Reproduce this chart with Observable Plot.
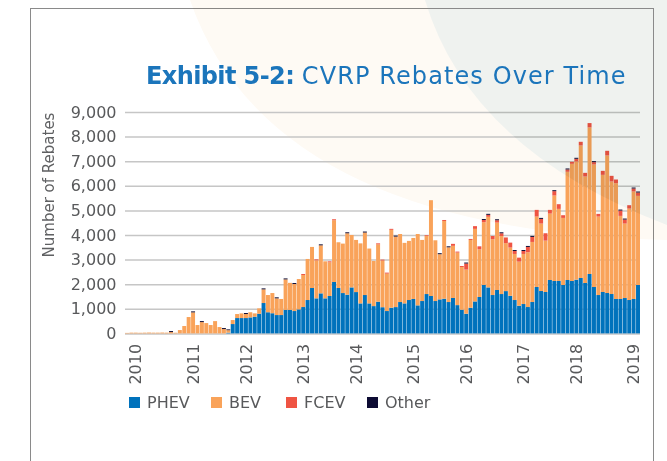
<!DOCTYPE html>
<html>
<head>
<meta charset="utf-8">
<script src="https://cdn.jsdelivr.net/npm/d3@7"></script>
<script src="https://cdn.jsdelivr.net/npm/@observablehq/plot@0.6"></script>
<style>
html,body{margin:0;padding:0;background:#fff;}
#wrap{position:relative;width:667px;height:461px;overflow:hidden;font-family:"DejaVu Sans",sans-serif;}
#bg,#fg,#chart{position:absolute;left:0;top:0;}
#fg{mix-blend-mode:multiply;pointer-events:none;}
#title{position:absolute;left:146px;top:64px;font-size:24px;line-height:24px;color:#1B75BB;white-space:nowrap;}
#title b{font-weight:bold;letter-spacing:-0.6px;}
#title span{letter-spacing:1.1px;}
#ylab{position:absolute;left:49px;top:185px;transform:translate(-50%,-50%) rotate(-90deg);font-size:15px;color:#5f6062;white-space:nowrap;}
.leg{position:absolute;top:393px;display:flex;align-items:center;font-size:16px;color:#58595b;white-space:nowrap;}
.leg span.sw{display:inline-block;width:11px;height:11px;margin-right:7px;}
</style>
</head>
<body>
<div id="wrap">
  <svg id="bg" width="667" height="461">
    <path d="M190,0 Q270,230 667,240 L667,225 Q470,150 425,0 Z" fill="#fefaf4"/>
  </svg>
  <div id="chart"></div>
  <svg id="fg" width="667" height="461">
    <path d="M425,0 Q470,150 667,225 L667,0 Z" fill="#eff2ef"/>
    <rect x="30.5" y="8.5" width="623" height="470" fill="none" stroke="#8a8a8a" stroke-width="1"/>
  </svg>
  <div id="title"><b>Exhibit 5-2:</b> <span>CVRP Rebates Over Time</span></div>
  <div id="ylab">Number of Rebates</div>
  <div id="legend"></div>
</div>
<script>
// Series
const series = ["PHEV", "BEV", "FCEV", "Other"];
const colors = ["#0072bc", "#f9a35a", "#ef5443", "#0d0b33"];

// Rebates per period (oldest first)
const phev = [0,0,0,0,0,0,0,0,0,0,
  0,0,0,0,0,0,0,0,0,0,0,0,0,30,380,624,624,624,650,679,
  800,1235,860,820,746,746,955,955,909,977,1072,1357,1845,1425,1628,1425,1520,2090,1845,1640,
  1574,1870,1680,1220,1560,1220,1110,1290,1065,909,1045,1070,1275,1220,1357,1400,1140,1316,1600,1520,
  1316,1384,1410,1275,1440,1150,963,800,1045,1300,1480,1970,1870,1560,1765,1600,1720,1530,1357,1126,
  1194,1072,1276,1886,1723,1683,2171,2130,2130,1968,2171,2130,2185,2253,2049,2415,1886,1560,1683,1642,
  1601,1398,1398,1438,1357,1398,1968];
const bev = [20,30,30,25,30,35,30,30,35,30,
  55,27,136,300,665,855,340,460,420,340,500,258,177,100,163,163,190,164,210,135,
  218,555,700,820,680,654,1240,1100,1100,1233,1303,1669,1670,1545,1952,1505,1370,2510,1860,2010,
  2496,2130,2120,2440,2540,2230,1835,2330,1895,1521,3165,2865,2765,2460,2403,2480,2900,2484,2360,3895,
  2469,1836,3160,2225,2120,2135,1737,1795,2755,2950,1940,2550,2870,2270,2740,2360,1950,1960,1873,1791,
  2036,2226,2442,2864,2742,2088,2700,3476,2932,2727,4398,4764,4804,5386,4328,5958,4981,3189,4762,5591,
  4573,4708,3379,3027,3718,4370,3623];
const fcev = [0,0,0,0,0,0,0,0,0,0,
  0,0,0,0,0,0,0,0,0,0,0,0,0,0,0,0,0,0,0,0,
  0,0,0,0,0,0,0,0,0,0,40,0,0,40,0,0,40,40,0,0,
  0,0,0,0,0,0,0,40,40,40,40,0,0,0,0,0,0,0,30,0,
  0,0,40,0,80,40,40,245,40,110,120,90,80,130,95,110,230,200,120,163,
  120,217,204,271,190,300,150,176,190,109,95,81,109,150,150,176,95,109,163,190,
  231,150,217,163,136,122,136];
const other = [0,0,0,0,0,0,0,0,0,0,
  40,0,0,0,0,40,0,40,0,0,0,0,40,33,0,0,0,40,0,0,
  0,40,0,0,40,0,40,0,40,0,0,0,0,0,40,0,0,0,0,0,
  40,0,0,0,40,0,0,0,0,0,0,40,0,0,0,0,0,0,0,0,
  0,40,0,40,0,0,0,40,0,0,0,40,40,0,40,40,0,0,40,0,
  40,40,40,0,40,0,0,40,0,0,40,0,40,0,0,0,40,0,0,0,
  0,0,40,40,0,40,40];

// Year tick labels and the period they sit under
const yearLabels = ["2010","2011","2012","2013","2014","2015","2016","2017","2018","2019"];
const yearPeriods = [2,15,27,40,52,65,77,90,102,115];
const yTicks = [0,1000,2000,3000,4000,5000,6000,7000,8000,9000];

const periods = phev.map((_, i) => i);
const values = {PHEV: phev, BEV: bev, FCEV: fcev, Other: other};
const rows = [];
periods.forEach(p => series.forEach(s => rows.push({period: p, type: s, value: values[s][p]})));
const yearOf = new Map(yearPeriods.map((p, i) => [p, yearLabels[i]]));

const chart = Plot.plot({
  width: 667,
  height: 400,
  marginLeft: 125,
  marginRight: 27,
  marginTop: 112,
  marginBottom: 66.6,
  style: {background: "transparent", fontFamily: "DejaVu Sans", fontSize: "16px", color: "#58595b"},
  x: {type: "band", domain: periods, paddingInner: 0.1, paddingOuter: 0},
  y: {domain: [0, 9000]},
  color: {domain: series, range: colors},
  marks: [
    Plot.gridY(yTicks, {stroke: "#c6c6c6", strokeOpacity: 1, strokeWidth: 1.5}),
    Plot.barY(rows, {x: "period", y: "value", fill: "type", order: series}),
    Plot.axisY({ticks: yTicks, tickSize: 0, tickPadding: 9, tickFormat: d3.format(","), label: null, fill: "#58595b"}),
    Plot.axisX({ticks: yearPeriods, tickFormat: d => yearOf.get(d), tickSize: 0, tickRotate: -90, tickPadding: 10, label: null, fill: "#58595b"})
  ]
});
document.getElementById("chart").appendChild(chart);

const legendX = [129, 211, 286, 367];
const legend = document.getElementById("legend");
series.forEach((s, i) => {
  const d = document.createElement("div");
  d.className = "leg";
  d.style.left = legendX[i] + "px";
  d.innerHTML = `<span class="sw" style="background:${colors[i]}"></span>${s}`;
  legend.appendChild(d);
});
</script>
</body>
</html>
